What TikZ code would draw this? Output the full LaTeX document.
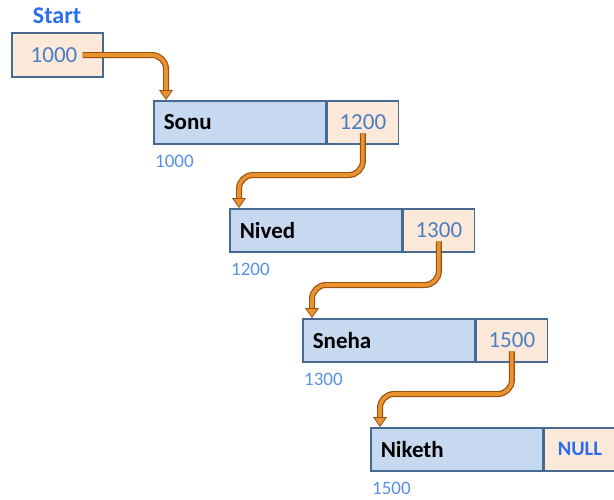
\documentclass[tikz,border=0pt]{standalone}
\usepackage{fontspec}
\setmainfont{Carlito}
\usetikzlibrary{arrows.meta,calc}

\definecolor{cellblue}{HTML}{C6D9F0}
\definecolor{cellpeach}{HTML}{FDE9D9}
\definecolor{edgeblue}{HTML}{476A92}
\definecolor{numblue}{HTML}{4A7EC4}
\definecolor{addrblue}{HTML}{5A8FE6}
\definecolor{titleblue}{HTML}{2A6DF0}
\definecolor{linkorange}{HTML}{E9922E}
\definecolor{linkbrown}{HTML}{9A5213}

\tikzset{
  datacell/.style={draw=edgeblue, line width=1.6pt, fill=cellblue,
    anchor=north west, inner xsep=10pt, inner ysep=0pt, text width=152pt,
    minimum height=43pt, align=left, font=\fontsize{23}{26}\selectfont\bfseries},
  ptrcell/.style={draw=edgeblue, line width=1.6pt, fill=cellpeach,
    anchor=north west, inner sep=0pt, minimum width=71pt, minimum height=43pt,
    text=numblue, font=\fontsize{23}{26}\selectfont},
  startcell/.style={draw=edgeblue, line width=1.6pt, fill=cellpeach,
    inner sep=0pt, minimum width=91pt, minimum height=44pt},
  addr/.style={anchor=west, inner sep=0pt, text=addrblue,
    font=\fontsize{19}{22}\selectfont},
  titlelabel/.style={inner sep=0pt, text=titleblue,
    font=\fontsize{24}{28}\selectfont\bfseries},
  link/.style={draw=linkorange, line width=3.6pt, rounded corners=14pt,
    preaction={draw=linkbrown, line width=6pt, arrows=-, shorten >=9pt},
    -{Triangle[length=10pt,width=14pt,fill=linkorange,color=linkbrown,line width=0.8pt]}}
}

\begin{document}
\begin{tikzpicture}[x=1pt,y=-1pt]
  \useasboundingbox (0,0) rectangle (614,499);

  % head pointer
  \node[titlelabel] (t) at (57,16) {Start};
  \node[startcell] (s) at (57.5,55) {};
  \node[inner sep=0pt, text=numblue, font=\fontsize{23}{26}\selectfont] (sv) at (54,55) {1000};

  % list nodes: data cell, next-pointer cell, address
  \node[datacell] (d1) at (153,100) {Sonu};
  \node[ptrcell] (p1) at (d1.north east) {1200};
  \node[addr] (a1) at ([xshift=2pt,yshift=-17pt]d1.south west) {1000};

  \node[datacell] (d2) at (229,208) {Nived};
  \node[ptrcell] (p2) at (d2.north east) {1300};
  \node[addr] (a2) at ([xshift=2pt,yshift=-17pt]d2.south west) {1200};

  \node[datacell] (d3) at (302,318) {Sneha};
  \node[ptrcell] (p3) at (d3.north east) {1500};
  \node[addr] (a3) at ([xshift=2pt,yshift=-17pt]d3.south west) {1300};

  \node[datacell] (d4) at (370,427) {Niketh};
  \node[ptrcell, text=titleblue, font=\fontsize{20.5}{24}\selectfont\bfseries] (p4) at (d4.north east) {NULL};
  \node[addr] (a4) at ([xshift=2pt,yshift=-17pt]d4.south west) {1500};

  % links
  \draw[link] ([xshift=5pt]sv.east) -| ([xshift=13pt]d1.north west);
  \draw[link] ([yshift=-11pt]p1.center) |- ($(d2.north west)+(10pt,33pt)$) -- ([xshift=10pt]d2.north west);
  \draw[link] ([yshift=-11pt]p2.center) |- ($(d3.north west)+(10pt,33pt)$) -- ([xshift=10pt]d3.north west);
  \draw[link] ([yshift=-11pt]p3.center) |- ($(d4.north west)+(10pt,33pt)$) -- ([xshift=10pt]d4.north west);
\end{tikzpicture}
\end{document}
